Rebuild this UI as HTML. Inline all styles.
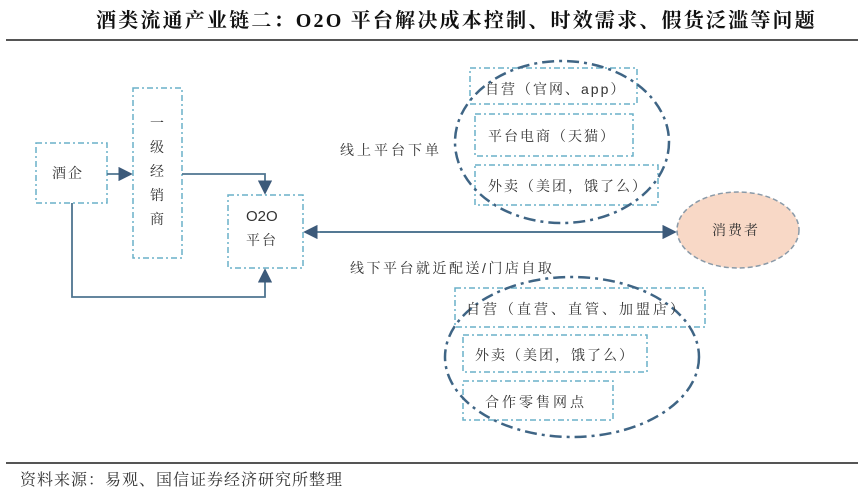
<!DOCTYPE html>
<html><head><meta charset="utf-8"><style>
body{margin:0;width:864px;height:499px;background:#fff;overflow:hidden;position:relative;font-family:"Liberation Serif","Noto Serif CJK SC",serif;}
.t{position:absolute;white-space:nowrap;color:#222;}
</style></head><body>
<div class="t" style="left:96px;top:4px;font-size:20px;letter-spacing:2.2px;font-weight:bold;color:#111;">酒类流通产业链二：O2O 平台解决成本控制、时效需求、假货泛滥等问题</div>
<div style="position:absolute;left:6px;top:39px;width:852px;height:2px;background:#555"></div>
<div style="position:absolute;left:6px;top:462px;width:852px;height:2px;background:#555"></div>
<div class="t" style="left:20px;top:467px;font-size:16px;letter-spacing:1px;color:#333;">资料来源：易观、国信证券经济研究所整理</div>
<svg width="864" height="499" style="position:absolute;left:0;top:0" font-family="Liberation Sans, Noto Serif CJK SC, serif">
<defs><marker id="a" markerWidth="8" markerHeight="8" refX="7" refY="4" orient="auto"><path d="M0,0 L8,4 L0,8 z" fill="#3c5a7a"/></marker></defs>
<g fill="none" stroke="#6ab0c8" stroke-width="1.5" stroke-dasharray="6,3,2,3">
<rect x="36" y="143" width="71" height="60"/>
<rect x="133" y="88" width="49" height="170"/>
<rect x="228" y="195" width="75" height="73"/>
<rect x="470" y="68" width="167" height="36"/>
<rect x="475" y="114" width="158" height="42"/>
<rect x="475" y="165" width="183" height="40"/>
<rect x="455" y="288" width="250" height="39"/>
<rect x="463" y="335" width="184" height="37"/>
<rect x="463" y="381" width="150" height="39"/>
</g>
<g fill="none" stroke="#3f6585" stroke-width="2.5" stroke-dasharray="12,5,3,5">
<ellipse cx="562" cy="142" rx="107" ry="81"/>
<ellipse cx="572" cy="357" rx="127" ry="80"/>
</g>
<ellipse cx="738" cy="230" rx="61" ry="38" fill="#f8d8c6" stroke="#8a9aa8" stroke-width="1.5" stroke-dasharray="5,3"/>
<g fill="none" stroke="#4f7590" stroke-width="1.8">
<line x1="107" y1="174" x2="131" y2="174" marker-end="url(#a)"/>
<polyline points="182,174 265,174 265,193" marker-end="url(#a)"/>
<polyline points="72,203 72,297 265,297 265,270" marker-end="url(#a)"/>
<line x1="320" y1="232" x2="675" y2="232" marker-end="url(#a)"/>
<line x1="660" y1="232" x2="305" y2="232" marker-end="url(#a)"/>
</g>
<g font-size="14" fill="#333" letter-spacing="2">
<text x="52" y="178">酒企</text>
<text x="150" y="128">一</text><text x="150" y="152">级</text><text x="150" y="176">经</text><text x="150" y="200">销</text><text x="150" y="224">商</text>
<text x="246" y="221" font-size="15" letter-spacing="0">O2O</text>
<text x="246" y="245">平台</text>
<text x="340" y="155" letter-spacing="3">线上平台下单</text>
<text x="350" y="273" letter-spacing="2.5">线下平台就近配送/门店自取</text>
<text x="485" y="94">自营（官网、app）</text>
<text x="488" y="141">平台电商（天猫）</text>
<text x="488" y="191">外卖（美团，饿了么）</text>
<text x="466" y="314" letter-spacing="3">自营（直营、直管、加盟店）</text>
<text x="475" y="360">外卖（美团，饿了么）</text>
<text x="485" y="407" letter-spacing="3">合作零售网点</text>
<text x="712" y="235">消费者</text>
</g>
</svg>
</body></html>
